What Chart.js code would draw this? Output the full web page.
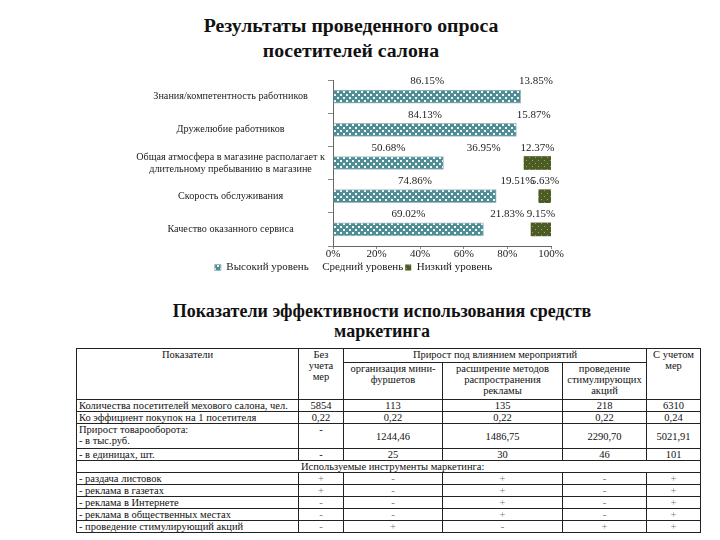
<!DOCTYPE html>
<html>
<head>
<meta charset="utf-8">
<script src="https://cdn.jsdelivr.net/npm/chart.js@4.4.1/dist/chart.umd.min.js"></script>
<style>
  body { margin: 0; background: #fff; width: 720px; height: 540px; position: relative; overflow: hidden; font-family: "Liberation Serif", serif; color: #111; }
  .title { position: absolute; text-align: center; font-weight: bold; }
  #title1 { left: 0; width: 702px; top: 13px; font-size: 19.8px; line-height: 25px; }
  #title2 { left: 82px; width: 600px; top: 301px; font-size: 18px; line-height: 20px; }
  #chart { position: absolute; left: 120px; top: 60px; }
  #tbl { position: absolute; left: 76px; top: 348px; width: 624px; border-collapse: collapse; table-layout: fixed; font-size: 10.5px; line-height: 11px; }
  #tbl td, #tbl th { border: 1px solid #222; padding: 0 2px; font-weight: normal; text-align: center; vertical-align: top; overflow: hidden; white-space: nowrap; }
  #tbl td.name { text-align: left; }
  #tbl td.mark { color: #777; }
  #tbl tr { height: 12px; }
</style>
</head>
<body>
<div class="title" id="title1">Результаты проведенного опроса<br>посетителей салона</div>
<canvas id="chart" width="470" height="223"></canvas>
<div class="title" id="title2">Показатели эффективности использования средств<br>маркетинга</div>
<table id="tbl"></table>
<script>
// chart data
const categories = [
  "Знания/компетентность работников",
  "Дружелюбие работников",
  ["Общая атмосфера в магазине располагает к", "длительному пребыванию в магазине"],
  "Скорость обслуживания",
  "Качество оказанного сервиса"
];
const seriesNames = ["Высокий уровень", "Средний уровень", "Низкий уровень"];
const highLevel = [86.15, 84.13, 50.68, 74.86, 69.02];
const midLevel = [13.85, 15.87, 36.95, 19.51, 21.83];
const lowLevel = [0, 0, 12.37, 5.63, 9.15];
const xTicks = [0, 20, 40, 60, 80, 100];

// table data
const headTop = ["Показатели", "Без учета мер", "Прирост под влиянием мероприятий", "С учетом мер"];
const headSub = ["организация мини-фуршетов", "расширение методов распространения рекламы", "проведение стимулирующих акций"];
const indicatorNames = [
  "Количества посетителей мехового салона, чел.",
  "Ко эффициент покупок на 1 посетителя",
  "Прирост товарооборота:<br>- в тыс.руб.",
  "- в единицах, шт."
];
const withoutMeasures = ["5854", "0,22", "-", "-"];
const miniBuffets = ["113", "0,22", "1244,46", "25"];
const adMethods = ["135", "0,22", "1486,75", "30"];
const promoActions = ["218", "0,22", "2290,70", "46"];
const withMeasures = ["6310", "0,24", "5021,91", "101"];
const toolsTitle = "Используемые инструменты маркетинга:";
const toolNames = [
  "- раздача листовок",
  "- реклама в газетах",
  "- реклама в Интернете",
  "- реклама в общественных местах",
  "- проведение стимулирующий акций"
];
const toolMarks = [
  ["+", "-", "+", "-", "+"],
  ["+", "-", "+", "-", "+"],
  ["-", "-", "+", "-", "+"],
  ["-", "-", "+", "-", "+"],
  ["-", "+", "-", "+", "+"]
];

function makePattern(base, dot, size, dots) {
  const c = document.createElement("canvas");
  c.width = size; c.height = size;
  const g = c.getContext("2d");
  g.fillStyle = base;
  g.fillRect(0, 0, size, size);
  g.fillStyle = dot;
  dots.forEach(d => g.fillRect(d[0], d[1], d[2], d[2]));
  return g.createPattern(c, "repeat");
}

const checkPattern = makePattern("#4f8e95", "#f4f8f8", 6, [[1, 1, 2], [4, 4, 2]]);
const dotPattern = makePattern("#4b5d25", "#9aa56a", 6, [[1, 1, 1], [4, 4, 1]]);

const serif = "'Liberation Serif', 'Times New Roman', serif";

const valueLabels = {
  id: "valueLabels",
  afterDatasetsDraw(chart) {
    const ctx = chart.ctx;
    ctx.save();
    ctx.font = "11px " + serif;
    ctx.fillStyle = "#222";
    ctx.textAlign = "center";
    ctx.textBaseline = "middle";
    chart.data.datasets.forEach((ds, i) => {
      chart.getDatasetMeta(i).data.forEach((bar, j) => {
        const v = ds.data[j];
        if (!v) return;
        ctx.fillText(v.toFixed(2) + "%", (bar.x + bar.base) / 2, bar.y - 15);
      });
    });
    ctx.restore();
  }
};

const shiftLegend = {
  id: "shiftLegend",
  beforeDraw(chart) {
    chart.legend.left += 18;
    chart.legend.right += 18;
  }
};

new Chart(document.getElementById("chart"), {
  type: "bar",
  data: {
    labels: categories,
    datasets: [
      { label: seriesNames[0], data: highLevel, backgroundColor: checkPattern, borderColor: "#9db9bd", borderWidth: 1, barThickness: 13 },
      { label: seriesNames[1], data: midLevel, backgroundColor: "rgba(255,255,255,0)", borderColor: "rgba(255,255,255,0)", borderWidth: 0, barThickness: 13 },
      { label: seriesNames[2], data: lowLevel.map(v => v || null), backgroundColor: dotPattern, borderColor: "#6d7a48", borderWidth: 0, barThickness: 13 }
    ]
  },
  options: {
    indexAxis: "y",
    responsive: false,
    animation: false,
    layout: { padding: { top: 20, right: 39, left: 0, bottom: 0 } },
    plugins: {
      tooltip: { enabled: false },
      legend: {
        position: "bottom",
        labels: { font: { family: serif, size: 11 }, color: "#222", boxWidth: 6, boxHeight: 6, padding: 2 }
      }
    },
    scales: {
      x: {
        stacked: true, min: 0, max: 100,
        afterBuildTicks: s => { s.ticks = xTicks.map(v => ({ value: v })); },
        ticks: { callback: v => v + "%", font: { family: serif, size: 11, lineHeight: 1 }, color: "#222", padding: 0 },
        grid: { drawOnChartArea: false, tickLength: 3, color: "#888" },
        border: { color: "#666" }
      },
      y: {
        stacked: true,
        afterFit: s => { s.width = 213; },
        ticks: { crossAlign: "center", padding: 3, font: { family: serif, size: 10.2 }, color: "#222" },
        grid: { drawOnChartArea: false, tickLength: 5, color: "#888" },
        border: { color: "#666" }
      }
    }
  },
  plugins: [valueLabels, shiftLegend]
});

// table
const tbl = document.getElementById("tbl");
const colWidths = [222, 45, 99, 120, 84, 54];
let html = "<colgroup>" + colWidths.map(w => '<col style="width:' + w + 'px">').join("") + "</colgroup>";
html += '<tr style="height:14px"><th rowspan="2">' + headTop[0] + '</th>' +
  '<th rowspan="2" style="white-space:normal">' + headTop[1].replace(/ /g, "<br>") + '</th>' +
  '<th colspan="3">' + headTop[2] + '</th>' +
  '<th rowspan="2" style="white-space:normal">' + headTop[3] + '</th></tr>';
html += '<tr style="height:37px">' + headSub.map(h => '<th style="white-space:normal">' + h + '</th>').join("") + '</tr>';
indicatorNames.forEach((name, i) => {
  const tall = name.indexOf("<br>") >= 0;
  const va = tall ? ' style="vertical-align:middle"' : "";
  html += '<tr' + (tall ? ' style="height:25px"' : "") + '>' +
    '<td class="name">' + name + '</td>' +
    '<td>' + withoutMeasures[i] + '</td>' +
    '<td' + va + '>' + miniBuffets[i] + '</td>' +
    '<td' + va + '>' + adMethods[i] + '</td>' +
    '<td' + va + '>' + promoActions[i] + '</td>' +
    '<td' + va + '>' + withMeasures[i] + '</td></tr>';
});
html += '<tr><td colspan="6" style="text-align:left;padding-left:224px">' + toolsTitle + '</td></tr>';
toolNames.forEach((name, i) => {
  html += '<tr><td class="name">' + name + '</td>' +
    toolMarks[i].map(m => '<td class="mark">' + m + '</td>').join("") + '</tr>';
});
tbl.innerHTML = html;
</script>
</body>
</html>
